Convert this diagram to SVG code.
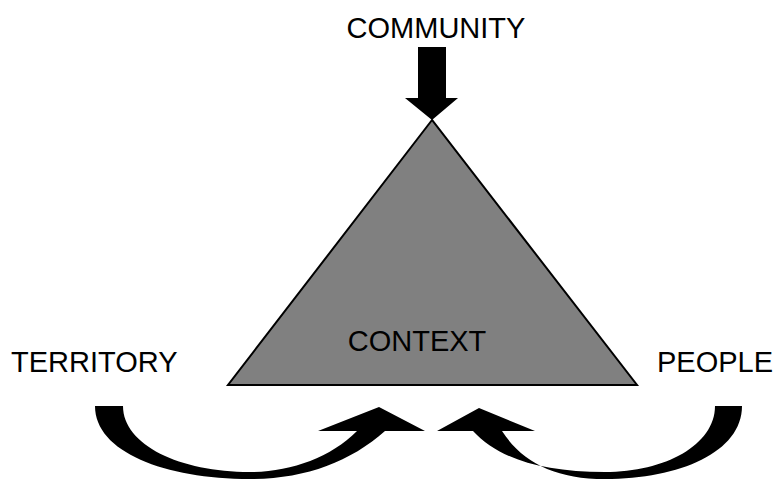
<svg xmlns="http://www.w3.org/2000/svg" width="774" height="480" viewBox="0 0 774 480">
  <style>
    .label { font-family: "Liberation Sans", Arial, sans-serif; font-size: 29px; fill: #000; }
    .arrow { fill: #000; stroke: none; }
  </style>
  <rect width="774" height="480" fill="#fff"/>

  <!-- central triangle -->
  <g id="context">
    <polygon points="432,120 228,385 637,385" fill="#808080" stroke="#000" stroke-width="2" stroke-linejoin="miter"/>
    <text class="label" x="417" y="351" text-anchor="middle">CONTEXT</text>
  </g>

  <g id="community">
    <text class="label" x="436" y="38" text-anchor="middle">COMMUNITY</text>
  </g>

  <g id="territory">
    <text class="label" x="11" y="372">TERRITORY</text>
  </g>

  <g id="people">
    <text class="label" x="657" y="372">PEOPLE</text>
  </g>

  <g id="connectors">
    <!-- straight block arrow from COMMUNITY down to the apex -->
    <polygon class="arrow" points="418,47 446,47 446,98 458,98 432,120 405,98 418,98"/>
    <!-- curved arrow from TERRITORY -->
    <path class="arrow" d="M95,406 C95,452 165,479 250,479 C305,479 350,462 385,431 L425,431 L379,407 L318,431 L357,431 C330,458 290,472 250,472 C180,472 123,445 123,406 Z"/>
    <!-- curved arrow from PEOPLE -->
    <path class="arrow" d="M742,406 C742,452 680,479 605,479 C555,479 522,462 502,431 L535,431 L479,408 L437,431 L473,431 C498,458 540,472 605,472 C665,472 715,445 715,406 Z"/>
  </g>
</svg>
